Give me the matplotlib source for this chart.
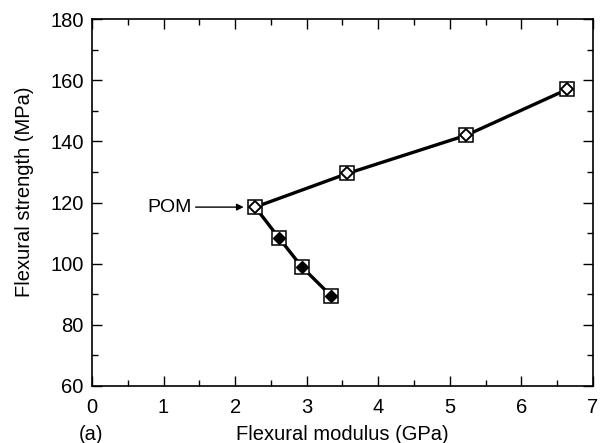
import matplotlib
matplotlib.use('Agg')
import matplotlib.pyplot as plt
from matplotlib.ticker import MultipleLocator

plt.rcParams['font.family'] = ['Liberation Sans', 'DejaVu Sans']

# upper branch (open diamonds), starts at POM
mod_up = [2.28, 3.57, 5.23, 6.64]
str_up = [118.5, 129.5, 142, 157]
# lower branch (filled diamonds), also starts at POM
mod_lo = [2.28, 2.61, 2.93, 3.34]
str_lo = [118.5, 108.5, 99, 89.5]

fig = plt.figure(figsize=(6.02, 4.43), dpi=100)
ax = fig.add_axes([0.1528, 0.1287, 0.985 - 0.1528, 0.957 - 0.1287])

ax.plot(mod_up, str_up, color='black', lw=2.4, zorder=2)
ax.plot(mod_lo, str_lo, color='black', lw=2.4, zorder=2)

# square frame around each point
ax.plot(mod_up + mod_lo[1:], str_up + str_lo[1:], ls='none', marker='s', ms=9.5,
        mfc='white', mec='black', mew=1.1, zorder=3)
# open diamonds
ax.plot(mod_up, str_up, ls='none', marker='D', ms=6.5, mfc='white', mec='black',
        mew=1.4, zorder=4)
# filled diamonds
ax.plot(mod_lo[1:], str_lo[1:], ls='none', marker='D', ms=6.5, mfc='black', mec='black',
        zorder=4)

ax.annotate('POM', xy=(mod_up[0] - 0.16, str_up[0]), xytext=(0.77, str_up[0]),
            fontsize=14, va='center', ha='left',
            arrowprops=dict(arrowstyle='-|>', color='black', lw=1.0,
                            mutation_scale=10, shrinkA=1, shrinkB=0))

ax.set_xlim(0, 7)
ax.set_ylim(60, 180)
ax.xaxis.set_major_locator(MultipleLocator(1))
ax.xaxis.set_minor_locator(MultipleLocator(0.5))
ax.yaxis.set_major_locator(MultipleLocator(20))
ax.yaxis.set_minor_locator(MultipleLocator(10))
ax.tick_params(which='both', direction='in', top=True, right=True, labelsize=14.5, width=1.0)
ax.tick_params(which='major', length=7)
ax.tick_params(which='minor', length=4)
ax.tick_params(axis='x', pad=9)
ax.tick_params(axis='y', pad=6)
for s in ax.spines.values():
    s.set_linewidth(1.2)

ax.set_xlabel('Flexural modulus (GPa)', fontsize=14.5)
ax.set_ylabel('Flexural strength (MPa)', fontsize=14.5)
ax.xaxis.set_label_coords(0.5, -0.131)
ax.yaxis.set_label_coords(-0.134, 0.53)
ax.xaxis.label.set_va('center')
ax.yaxis.label.set_va('center')
fig.text(91, 443 - 434, '(a)', fontsize=14.5, ha='center', va='center',
         transform=None)

fig.savefig('out.png', dpi=100)
